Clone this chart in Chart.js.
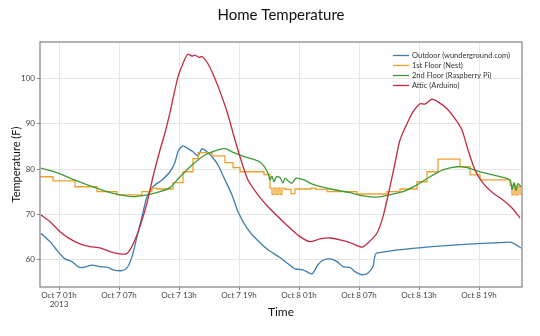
<!DOCTYPE html>
<html>
<head>
<meta charset="utf-8">
<script src="https://cdn.jsdelivr.net/npm/chart.js@4"></script>
<style>
  body { margin: 0; background: #fff; }
  #wrap { width: 540px; height: 336px; }
</style>
</head>
<body>
<div id="wrap"><canvas id="tempChart" width="540" height="336"></canvas></div>
<script>
// times are hours since Oct 7 2013 00:00
let outdoorHours = [-0.8, 0.1, 0.9, 1.6, 2.3, 2.9, 3.4, 4.3, 5.1, 5.9, 6.4, 7.3, 7.8, 8.3, 8.8, 9.3, 9.8, 10.4, 11.3, 12.1, 12.6, 12.9, 13.4, 13.9, 14.4, 14.9, 15.3, 15.8, 16.3, 16.9, 17.6, 18.3, 18.9, 19.8, 20.8, 21.9, 23.1, 23.8, 24.6, 25.4, 26.3, 26.9, 27.4, 28.1, 28.8, 29.4, 30.1, 30.6, 31.3, 31.9, 32.4, 32.8, 46.1, 47.2];
let outdoorTemps = [65.8, 64.0, 61.8, 60.2, 59.6, 58.5, 58.3, 58.8, 58.5, 58.3, 57.8, 57.6, 58.2, 60.7, 65.1, 69.5, 73.9, 76.1, 77.6, 79.4, 81.5, 83.8, 85.1, 84.5, 83.8, 82.9, 84.5, 83.8, 82.7, 80.9, 77.6, 74.3, 70.6, 67.0, 64.4, 62.2, 60.5, 59.3, 58.0, 57.8, 56.9, 58.9, 59.9, 60.2, 59.6, 58.5, 58.3, 57.4, 56.7, 57.1, 58.5, 61.5, 63.9, 62.6];

let firstHours = [-0.9, 0.4, 2.6, 4.8, 6.8, 9.3, 10.3, 10.8, 12.4, 13.4, 14.4, 14.9, 16.3, 17.6, 18.4, 19.1, 21.5, 22.1, 22.3, 22.5, 22.7, 22.9, 23.1, 23.3, 23.6, 24.2, 24.6, 26.2, 26.7, 27.8, 30.8, 33.8, 35.1, 36.8, 37.8, 38.9, 41.1, 42.1, 43.1, 46.1, 46.3, 46.5, 46.7, 46.9, 47.1, 47.2];
let firstTemps = [78.3, 77.4, 76.1, 75.0, 74.3, 75.0, 75.8, 75.6, 77.0, 79.4, 82.3, 83.6, 82.9, 81.4, 80.3, 79.4, 78.8, 75.8, 74.4, 75.8, 74.4, 75.8, 74.4, 75.8, 75.5, 74.6, 75.6, 75.8, 75.5, 75.0, 74.5, 75.0, 75.6, 77.2, 79.4, 82.2, 80.5, 78.7, 77.6, 76.4, 74.3, 76.4, 74.3, 76.2, 74.5, 74.5];

let secondHours = [-0.8, 0.8, 2.4, 4.1, 5.8, 7.1, 8.4, 9.8, 11.1, 12.1, 12.9, 14.3, 15.6, 16.9, 17.6, 18.3, 19.6, 20.9, 21.4, 21.9, 22.1, 22.3, 22.5, 22.7, 22.9, 23.1, 23.4, 23.6, 24.0, 24.3, 24.7, 25.5, 26.4, 28.1, 30.1, 31.4, 32.8, 34.1, 35.4, 36.8, 38.1, 39.4, 40.8, 41.8, 43.1, 44.8, 46.1, 46.3, 46.5, 46.7, 46.9, 47.2];
let secondTemps = [80.2, 79.2, 77.7, 76.3, 75.0, 74.3, 73.9, 74.3, 75.0, 75.9, 77.8, 80.9, 83.1, 84.2, 84.5, 83.8, 82.7, 81.8, 80.9, 79.1, 77.6, 78.4, 77.2, 78.2, 78.3, 78.1, 76.9, 78.0, 77.2, 76.9, 78.0, 77.6, 76.6, 75.6, 74.8, 74.1, 73.8, 74.3, 75.0, 76.5, 78.3, 79.8, 80.5, 80.3, 79.4, 78.5, 77.6, 75.5, 77.0, 75.3, 76.8, 76.1];

let atticHours = [-0.8, 0.1, 1.1, 2.1, 3.1, 4.1, 5.1, 6.1, 7.1, 7.7, 8.1, 8.6, 9.1, 9.8, 10.4, 11.1, 11.6, 12.1, 12.9, 13.6, 13.9, 14.3, 14.6, 15.0, 15.3, 15.9, 16.6, 17.3, 17.9, 18.6, 19.3, 19.9, 20.9, 21.9, 22.9, 24.1, 25.1, 26.1, 27.1, 28.1, 29.1, 30.1, 31.3, 31.9, 32.8, 33.4, 34.1, 34.6, 35.1, 35.8, 36.4, 37.1, 37.6, 38.3, 38.9, 39.8, 40.6, 41.3, 41.9, 42.6, 43.4, 44.4, 45.4, 46.3, 47.1];
let atticTemps = [69.9, 68.4, 66.2, 64.6, 63.5, 62.9, 62.6, 61.8, 61.3, 61.3, 62.2, 64.4, 67.3, 72.5, 78.3, 84.2, 88.0, 92.5, 100.3, 104.3, 105.3, 104.9, 105.1, 104.6, 104.8, 103.2, 99.9, 95.9, 91.9, 86.4, 81.3, 77.6, 74.3, 71.7, 69.5, 67.0, 65.1, 64.0, 64.6, 64.8, 64.4, 63.8, 62.8, 63.7, 65.9, 69.5, 76.1, 81.3, 86.4, 90.0, 92.6, 94.4, 94.3, 95.4, 94.8, 93.3, 91.1, 88.6, 84.2, 79.8, 76.9, 74.7, 73.2, 71.4, 69.2];

let seriesNames = ["Outdoor (wunderground.com)", "1st Floor (Nest)", "2nd Floor (Raspberry Pi)", "Attic (Arduino)"];
let seriesColors = ["#3b7db0", "#f0a02a", "#3d9b35", "#c42a40"];

let tickHours = [1, 7, 13, 19, 25, 31, 37, 43];
let tickLabels = [["Oct 7 01h", "2013"], "Oct 7 07h", "Oct 7 13h", "Oct 7 19h", "Oct 8 01h", "Oct 8 07h", "Oct 8 13h", "Oct 8 19h"];
let tempTicks = [60, 70, 80, 90, 100];

function toPoints(hours, temps) {
    return hours.map((h, i) => ({ x: h, y: temps[i] }));
}

Chart.defaults.font.family = "Lato, 'DejaVu Sans', sans-serif";

// plot frame and the key drawn inside the plot area
const frameAndKey = {
    id: "frameAndKey",
    afterDraw(chart) {
        const { ctx, chartArea: a } = chart;
        ctx.save();
        ctx.strokeStyle = "#808080";
        ctx.lineWidth = 1.2;
        ctx.strokeRect(a.left, a.top, a.right - a.left, a.bottom - a.top);
        ctx.font = "7.5px Lato";
        ctx.textBaseline = "middle";
        chart.data.datasets.forEach((ds, i) => {
            let y = a.top + 13.5 + i * 10;
            let x = a.right - 129;
            ctx.strokeStyle = ds.borderColor;
            ctx.lineWidth = 1.3;
            ctx.beginPath();
            ctx.moveTo(x, y);
            ctx.lineTo(x + 16, y);
            ctx.stroke();
            ctx.fillStyle = "#333";
            ctx.fillText(ds.label, x + 19, y);
        });
        ctx.restore();
    }
};

let ctx = document.getElementById("tempChart").getContext("2d");

let tempChart = new Chart(ctx, {
    type: "line",
    data: {
        datasets: [
            { label: seriesNames[0], data: toPoints(outdoorHours, outdoorTemps), borderColor: seriesColors[0], order: 4, tension: 0.25 },
            { label: seriesNames[1], data: toPoints(firstHours, firstTemps), borderColor: seriesColors[1], order: 3, stepped: true },
            { label: seriesNames[2], data: toPoints(secondHours, secondTemps), borderColor: seriesColors[2], order: 2, tension: 0.25 },
            { label: seriesNames[3], data: toPoints(atticHours, atticTemps), borderColor: seriesColors[3], order: 1, tension: 0.25 }
        ]
    },
    options: {
        responsive: false,
        animation: false,
        devicePixelRatio: 1,
        layout: { padding: { left: 0, right: 18, top: 0, bottom: 0 } },
        elements: {
            point: { radius: 0 },
            line: { borderWidth: 1.3, fill: false }
        },
        plugins: {
            legend: { display: false },
            tooltip: { enabled: false },
            title: {
                display: true,
                text: "Home Temperature",
                fullSize: false,
                color: "#111",
                font: { size: 15, weight: "normal" },
                padding: { top: 6, bottom: 18 }
            }
        },
        scales: {
            x: {
                type: "linear",
                min: -0.9,
                max: 47.3,
                afterBuildTicks: (s) => { s.ticks = tickHours.map(v => ({ value: v })); },
                afterFit: (s) => { s.height = 49; },
                ticks: {
                    autoSkip: false,
                    maxRotation: 0,
                    padding: 1,
                    color: "#444",
                    font: { size: 8, lineHeight: 1.15 },
                    callback: (v, i) => tickLabels[i]
                },
                grid: { color: "#e6e6e6", tickLength: 3, tickColor: "#888" },
                border: { display: false },
                title: {
                    display: true,
                    text: "Time",
                    color: "#111",
                    font: { size: 12 },
                    padding: { top: 0, bottom: 17 }
                }
            },
            y: {
                min: 54,
                max: 108,
                afterBuildTicks: (s) => { s.ticks = tempTicks.map(v => ({ value: v })); },
                afterFit: (s) => { s.width = 40; },
                ticks: { padding: 2, color: "#444", font: { size: 8 } },
                grid: { color: "#e6e6e6", tickLength: 3, tickColor: "#888" },
                border: { display: false },
                title: {
                    display: true,
                    text: "Temperature (F)",
                    color: "#111",
                    font: { size: 11 },
                    padding: { top: 9.5, bottom: 0 }
                }
            }
        }
    },
    plugins: [frameAndKey]
});
</script>
</body>
</html>
